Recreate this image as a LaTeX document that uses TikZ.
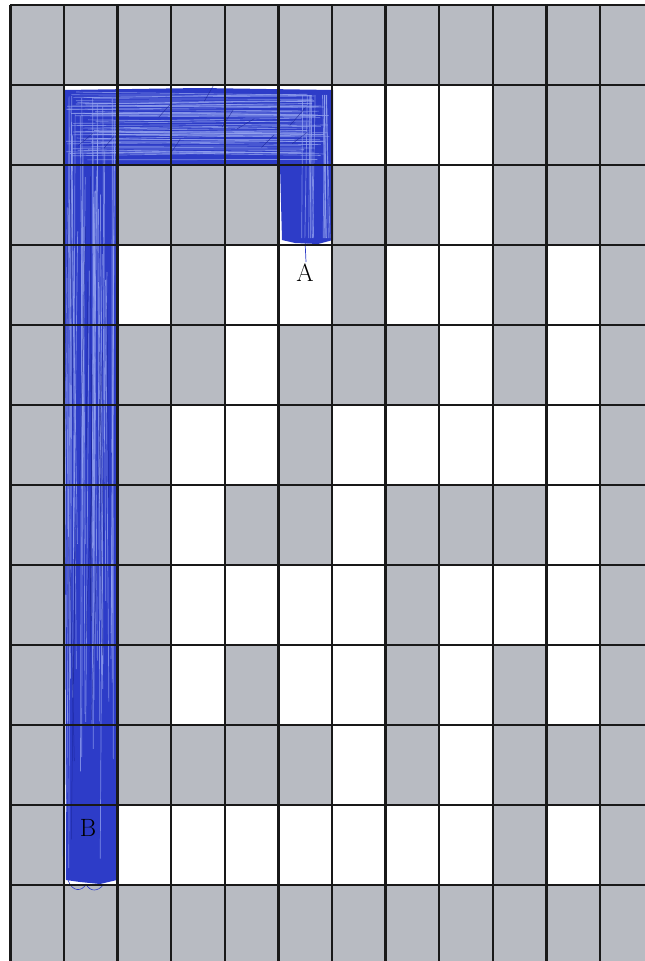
\documentclass[tikz,border=0pt]{standalone}
\usepackage{tikz}
\definecolor{cellgray}{RGB}{184,187,194}
\definecolor{gridline}{RGB}{25,25,25}
\definecolor{penblue}{RGB}{45,60,200}
\definecolor{penlight}{RGB}{150,165,240}
\definecolor{pendark}{RGB}{25,35,150}
\tikzset{
  whitecell/.style={fill=white},
  gridstroke/.style={draw=gridline,line width=2.4pt},
  pen/.style={fill=penblue},
  streak/.style={draw=penlight,line width=0.7pt,opacity=0.75},
  darkstreak/.style={draw=pendark,line width=0.5pt,opacity=0.7},
  letter/.style={font=\fontsize{25}{25}\selectfont,text=black,inner sep=0pt}
}
\newcommand{\cellfill}[2]{\fill[whitecell] ({10.3+#1*53.6},{5+#2*80}) rectangle ({10.3+(#1+1)*53.6},{5+(#2+1)*80});}
\begin{document}
\begin{tikzpicture}[x=1pt,y=-1pt]
\useasboundingbox (0,0) rectangle (645,961);
\fill[white] (0,0) rectangle (645,961);
\fill[cellgray] (10.3,5) rectangle (645,961);
% white cells (col,row)
\foreach \c/\r in {1/1,2/1,3/1,4/1,5/1,6/1,7/1,8/1,
  1/2,5/2,8/2,
  1/3,2/3,4/3,5/3,7/3,8/3,10/3,
  1/4,4/4,8/4,10/4,
  1/5,3/5,4/5,6/5,7/5,8/5,9/5,10/5,
  1/6,3/6,6/6,10/6,
  1/7,3/7,4/7,5/7,6/7,8/7,9/7,10/7,
  1/8,3/8,5/8,6/8,8/8,10/8,
  1/9,6/9,8/9,
  1/10,2/10,3/10,4/10,5/10,6/10,7/10,8/10,10/10}{\cellfill{\c}{\r}}
% blue scribbled path
\fill[pen] (64,90) -- (200,88) -- (333,90) -- (333,240) -- (318,244) -- (295,243) -- (282,240)
  -- (280,165) -- (117,166) -- (116,500) -- (117,880) -- (100,884) -- (80,882) -- (66,880)
  -- (65,500) -- (63,140) -- cycle;
\pgfmathsetseed{11}
\foreach \i in {1,...,55}{
  \pgfmathsetmacro{\ya}{92+rnd*70}
  \pgfmathsetmacro{\yb}{\ya+(rnd-0.5)*8}
  \pgfmathsetmacro{\xa}{66+rnd*30}
  \pgfmathsetmacro{\xb}{300+rnd*30}
  \draw[streak] (\xa,\ya) -- (\xb,\yb);
}
\foreach \i in {1,...,40}{
  \pgfmathsetmacro{\xa}{67+rnd*48}
  \pgfmathsetmacro{\xb}{\xa+(rnd-0.5)*10}
  \pgfmathsetmacro{\ya}{95+rnd*200}
  \pgfmathsetmacro{\yb}{450+rnd*420}
  \draw[streak] (\xa,\ya) -- (\xb,\yb);
}
\foreach \i in {1,...,14}{
  \pgfmathsetmacro{\xa}{284+rnd*46}
  \pgfmathsetmacro{\xb}{\xa+(rnd-0.5)*8}
  \draw[streak] (\xa,95) -- (\xb,238);
}
\foreach \i in {1,...,18}{
  \pgfmathsetmacro{\xa}{68+rnd*46}
  \pgfmathsetmacro{\xb}{\xa+(rnd-0.5)*12}
  \pgfmathsetmacro{\ya}{170+rnd*400}
  \draw[darkstreak] (\xa,\ya) -- (\xb,{\ya+150+rnd*150});
}
\foreach \i in {1,...,10}{
  \pgfmathsetmacro{\xa}{70+rnd*240}
  \pgfmathsetmacro{\ya}{100+rnd*55}
  \draw[darkstreak] (\xa,\ya) -- ({\xa+8+rnd*10},{\ya-10-rnd*10});
}
\draw[penblue,line width=0.7pt] (305,240) -- (306,262);
\draw[penblue,line width=0.6pt] (68,880) .. controls (72,892) and (82,892) .. (86,884);
\draw[penblue,line width=0.6pt] (86,884) .. controls (90,892) and (98,892) .. (104,884);
% grid lines
\foreach \c in {0,...,11}{\draw[gridstroke] ({10.3+\c*53.6},5) -- ({10.3+\c*53.6},961);}
\foreach \r in {0,...,11}{\draw[gridstroke] (10.3,{5+\r*80}) -- (645,{5+\r*80});}
% labels
\node[letter] (A) at (305,273) {A};
\node[letter] (B) at (88,828) {B};
\end{tikzpicture}
\end{document}
